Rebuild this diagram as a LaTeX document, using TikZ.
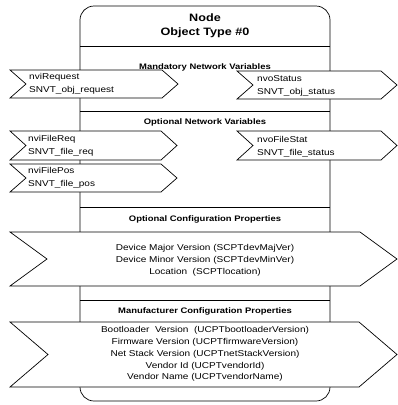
\documentclass[tikz,border=0pt]{standalone}
\usepackage{fontspec}
\setmainfont{Liberation Sans}[FakeStretch=1.18]
\tikzset{
 shp/.style={draw=black, fill=white, line width=0.7pt, line join=miter},
 body/.style={draw=black, fill=white, line width=0.7pt},
 sep/.style={draw=black, line width=0.7pt},
 hdr/.style={font=\fontsize{8}{10}\selectfont\bfseries, inner sep=0pt},
 ttl/.style={font=\fontsize{10.7}{14}\selectfont\bfseries, align=center, inner sep=0pt},
 lbl/.style={font=\fontsize{8.5}{13.5}\selectfont, align=left, anchor=west, inner sep=0pt},
 lst/.style={font=\fontsize{8.5}{11.8}\selectfont, align=center, inner sep=0pt},
}
\newcommand\sigshape[5]{%
 \draw[shp] (#1,#3) -- (#2-#5,#3) -- (#2,{(#3+#4)/2}) -- (#2-#5,#4) -- (#1,#4) -- (#1+#5,{(#3+#4)/2}) -- cycle;}
\begin{document}
\begin{tikzpicture}[x=1pt,y=-1pt]
\useasboundingbox (0,0) rectangle (397,405);
% body
\draw[body, rounded corners=14pt] (80,6) rectangle (330,401);
\draw[sep] (80,46) -- (330,46);
\draw[sep] (80,111) -- (330,111);
\draw[sep] (80,207) -- (330,207);
\draw[sep] (80,300) -- (330,300);
\node[ttl] (title) at (205,26) {Node\\Object Type \#0};
\node[hdr] (mand) at (205,67) {Mandatory Network Variables};
\node[hdr] (optnv) at (205,122) {Optional Network Variables};
\node[hdr] (optcp) at (205,219) {Optional Configuration Properties};
\node[hdr] (mancp) at (205,311) {Manufacturer Configuration Properties};
% network variables
\sigshape{10}{178}{70}{98}{16}
\node[lbl] (nvireq) at (29,84) {nviRequest\\SNVT\_obj\_request};
\sigshape{237}{397}{71}{99}{16}
\node[lbl] (nvostat) at (257,86) {nvoStatus\\SNVT\_obj\_status};
\sigshape{10}{177}{131}{160}{16}
\node[lbl] (nvifreq) at (28,146) {nviFileReq\\SNVT\_file\_req};
\sigshape{237}{397}{131}{160}{16}
\node[lbl] (nvofstat) at (257,147) {nvoFileStat\\SNVT\_file\_status};
\sigshape{10}{177}{164}{192}{16}
\node[lbl] (nvifpos) at (28,178) {nviFilePos\\SNVT\_file\_pos};
% configuration properties
\sigshape{10}{397}{232}{286}{37}
\node[lst] (ocp) at (205,260) {Device Major Version (SCPTdevMajVer)\\Device Minor Version (SCPTdevMinVer)\\Location\ \ (SCPTlocation)};
\sigshape{10}{397}{322}{387}{38}
\node[lst] (mcp) at (205,354) {Bootloader\ \ Version\ \ (UCPTbootloaderVersion)\\Firmware Version (UCPTfirmwareVersion)\\Net Stack Version (UCPTnetStackVersion)\\Vendor Id (UCPTvendorId)\\Vendor Name (UCPTvendorName)};
\end{tikzpicture}
\end{document}
